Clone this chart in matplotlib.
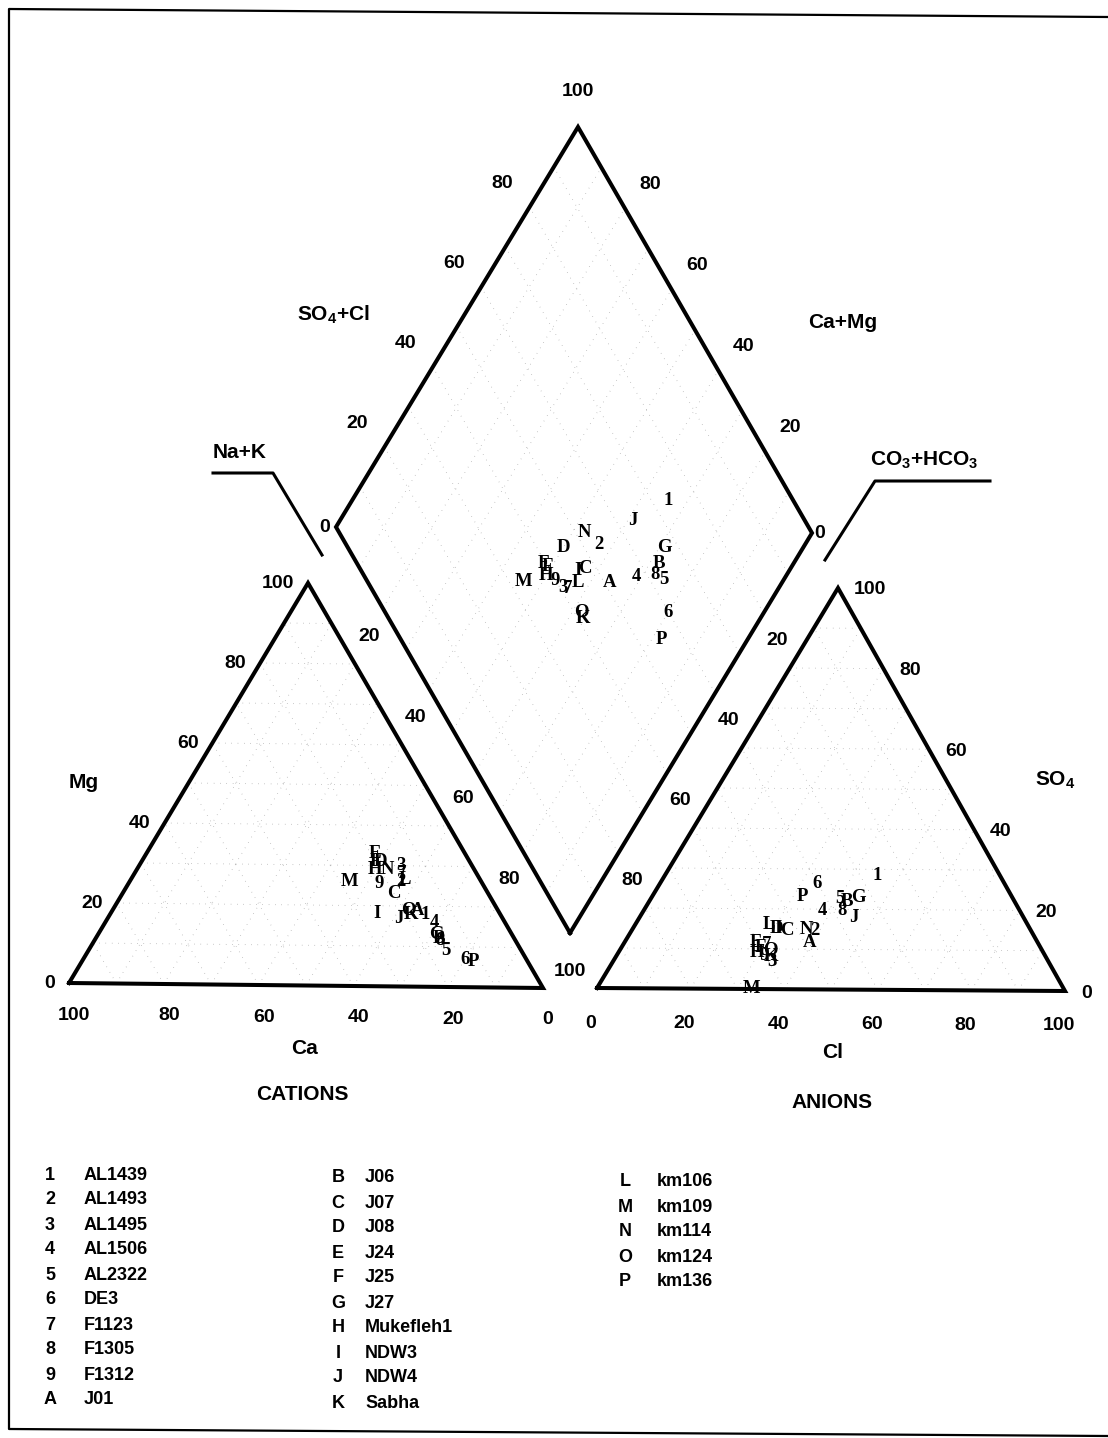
import numpy as np
import matplotlib
matplotlib.use("Agg")
import matplotlib.pyplot as plt

plt.rcParams['font.family'] = ['Liberation Sans', 'DejaVu Sans']
plt.rcParams['mathtext.fontset'] = 'custom'
plt.rcParams['mathtext.rm'] = 'Liberation Sans:bold'
plt.rcParams['mathtext.default'] = 'rm'

# sample codes and names (legend)
codes = ['1', '2', '3', '4', '5', '6', '7', '8', '9', 'A', 'B', 'C', 'D',
         'E', 'F', 'G', 'H', 'I', 'J', 'K', 'L', 'M', 'N', 'O', 'P']
names = ['AL1439', 'AL1493', 'AL1495', 'AL1506', 'AL2322', 'DE3', 'F1123',
         'F1305', 'F1312', 'J01', 'J06', 'J07', 'J08', 'J24', 'J25', 'J27',
         'Mukefleh1', 'NDW3', 'NDW4', 'Sabha', 'km106', 'km109', 'km114',
         'km124', 'km136']

# cations, % meq
ca = [16, 17, 15, 15, 16, 13, 16, 16, 22, 17, 16, 20, 19,
      19, 20, 16, 21, 26, 22, 19, 16, 28, 18.5, 19, 11.5]
mg = [18, 26, 30, 16, 9, 7, 28, 11.5, 25.5, 19, 12, 23, 31,
      33, 31, 13, 29, 18, 17, 18, 26.5, 26, 29, 19, 6.5]
nak = [66, 57, 55, 69, 75, 80, 56, 72.5, 52.5, 64, 72, 57, 50,
       48, 49, 71, 50, 56, 61, 63, 57.5, 46, 52.5, 62, 82]

# anions, % meq
hco3 = [26.4, 46.4, 59.3, 42.4, 37.1, 40.2, 58.5, 38.2, 60.2, 48.9, 36, 52.4, 54.3,
        60.4, 60.1, 33, 61.5, 54, 36.5, 59, 55.5, 67, 48, 58.4, 45]
so4 = [28.4, 14.6, 7, 19.6, 22.6, 26.4, 11, 19.6, 8.4, 11.6, 22, 14.6, 15,
       11.6, 10.4, 23, 9, 15, 18, 8, 16, 0, 15, 9.6, 23]
cl = [45.2, 39, 33.7, 38, 40.3, 33.4, 30.5, 42.2, 31.4, 39.5, 42, 33, 30.7,
      28, 29.5, 44, 29.5, 31, 45.5, 33, 28.5, 33, 37, 32, 32]

ticks = [0, 20, 40, 60, 80, 100]

# layout (pixel space of the scanned page)
C_BL, C_BR, C_T = np.array([69, 983]), np.array([543, 988]), np.array([308, 583])
A_BL, A_BR, A_T = np.array([597, 988]), np.array([1065, 991]), np.array([838, 588])
D_B, D_L, D_R = np.array([570, 933]), np.array([336, 527]), np.array([812, 533])
D_T = D_L + D_R - D_B

LW = 2.9
SANS = dict(family='Liberation Sans', fontweight='bold', color='black')


def tern(v1, v2, v3, f1, f2, f3):
    s = f1 + f2 + f3
    return (v1 * f1 + v2 * f2 + v3 * f3) / s


def diam(a, b):
    return D_B + a * (D_L - D_B) + b * (D_R - D_B)


fig = plt.figure(figsize=(11.08, 14.38), dpi=100)
ax = fig.add_axes([0, 0, 1, 1])
ax.set_xlim(0, 1108)
ax.set_ylim(1438, 0)
ax.axis('off')

# page frame
ax.plot([1108, 9, 9, 1108], [17, 9, 1429, 1436], color='black', lw=1.6)

# dotted grid
grid_kw = dict(color='#888888', lw=0.6, linestyle=(0, (0.6, 7)))
for k in np.arange(0.1, 1.0, 0.1):
    for (p, q, r) in [(C_BL, C_BR, C_T), (A_BL, A_BR, A_T)]:
        for s1, s2 in [((p, r), (q, r)), ((p, q), (r, q)), ((q, p), (r, p))]:
            a0 = s1[0] + k * (s1[1] - s1[0])
            a1 = s2[0] + k * (s2[1] - s2[0])
            ax.plot([a0[0], a1[0]], [a0[1], a1[1]], **grid_kw)
    p0, p1 = diam(k, 0), diam(k, 1)
    ax.plot([p0[0], p1[0]], [p0[1], p1[1]], **grid_kw)
    p0, p1 = diam(0, k), diam(1, k)
    ax.plot([p0[0], p1[0]], [p0[1], p1[1]], **grid_kw)

# outlines
for poly in [(C_BL, C_BR, C_T, C_BL), (A_BL, A_BR, A_T, A_BL), (D_B, D_R, D_T, D_L, D_B)]:
    pts = np.array(poly)
    ax.plot(pts[:, 0], pts[:, 1], color='black', lw=LW, solid_joinstyle='miter')

# bent pointer lines
ax.plot([213, 273, 322], [473, 473, 555], color='black', lw=2.2)
ax.plot([990, 875, 825], [481, 481, 560], color='black', lw=2.2)

fs = 14
# tick labels
for t in ticks:
    f = t / 100
    p = C_BL + f * (C_T - C_BL)                    # Mg
    ax.text(p[0] - 14, p[1], str(t), ha='right', va='center', fontsize=fs, **SANS)
    p = C_BR + f * (C_BL - C_BR)                   # Ca
    ax.text(p[0] + 5, p[1] + 32, str(t), ha='center', va='center', fontsize=fs, **SANS)
    p = A_BL + f * (A_BR - A_BL)                   # Cl
    ax.text(p[0] - 6, p[1] + 35, str(t), ha='center', va='center', fontsize=fs, **SANS)
    p = A_BR + f * (A_T - A_BR)                    # SO4
    ax.text(p[0] + 16, p[1] + 2, str(t), ha='left', va='center', fontsize=fs, **SANS)
    if 0 < t < 100:
        p = D_L + f * (D_T - D_L)                  # SO4+Cl
        ax.text(p[0] - 27, p[1] - 24, str(t), ha='center', va='center', fontsize=fs, **SANS)
        p = D_R + f * (D_T - D_R)                  # Ca+Mg
        ax.text(p[0] + 25, p[1] - 24, str(t), ha='center', va='center', fontsize=fs, **SANS)
        p = ((C_T + f * (C_BR - C_T)) + (D_L + f * (D_B - D_L))) / 2     # Na+K
        ax.text(p[0], p[1], str(t), ha='center', va='center', fontsize=fs, **SANS)
        p = ((A_T + f * (A_BL - A_T)) + (D_R + f * (D_B - D_R))) / 2     # CO3+HCO3
        ax.text(p[0], p[1], str(t), ha='center', va='center', fontsize=fs, **SANS)
ax.text(D_L[0] - 11, D_L[1] + 1, '0', ha='center', va='center', fontsize=fs, **SANS)
ax.text(D_R[0] + 8, D_R[1], '0', ha='center', va='center', fontsize=fs, **SANS)
ax.text(D_T[0], D_T[1] - 35, '100', ha='center', va='center', fontsize=fs, **SANS)
ax.text((C_BR[0] + A_BL[0]) / 2, C_BR[1] - 16, '100', ha='center', va='center',
        fontsize=fs, **SANS)

# axis titles
tfs = 15
ax.text(333, 315, r'SO$_4$+Cl', ha='center', va='center', fontsize=tfs, **SANS)
ax.text(843, 322, 'Ca+Mg', ha='center', va='center', fontsize=tfs, **SANS)
ax.text(240, 452, 'Na+K', ha='center', va='center', fontsize=tfs, **SANS)
ax.text(924, 460, r'CO$_3$+HCO$_3$', ha='center', va='center', fontsize=tfs, **SANS)
ax.text(84, 782, 'Mg', ha='center', va='center', fontsize=tfs, **SANS)
ax.text(305, 1048, 'Ca', ha='center', va='center', fontsize=tfs, **SANS)
ax.text(1055, 780, r'SO$_4$', ha='center', va='center', fontsize=tfs, **SANS)
ax.text(833, 1052, 'Cl', ha='center', va='center', fontsize=tfs, **SANS)
ax.text(302, 1095, 'CATIONS', ha='center', va='center', fontsize=tfs, **SANS)
ax.text(832, 1102, 'ANIONS', ha='center', va='center', fontsize=tfs, **SANS)

# sample labels
MK = dict(family='Liberation Serif', fontweight='bold', fontsize=13.5,
          ha='center', va='center', color='black')
for i, c in enumerate(codes):
    p = tern(C_BL, C_BR, C_T, ca[i], nak[i], mg[i])
    ax.text(p[0], p[1], c, **MK)
    p = tern(A_BL, A_BR, A_T, hco3[i], cl[i], so4[i])
    ax.text(p[0], p[1], c, **MK)
    a = (ca[i] + mg[i]) / (ca[i] + mg[i] + nak[i])
    b = (cl[i] + so4[i]) / (cl[i] + so4[i] + hco3[i])
    p = diam(a, b)
    ax.text(p[0], p[1], c, **MK)

# legend
cols = [(50, 84, 1175, codes[:10], names[:10]),
        (338, 365, 1178, codes[10:20], names[10:20]),
        (625, 657, 1182, codes[20:], names[20:])]
for xc, xn, y0, cc, nn in cols:
    for j, (c, n) in enumerate(zip(cc, nn)):
        ax.text(xc, y0 + 25 * j, c, ha='center', va='center', fontsize=13, **SANS)
        ax.text(xn, y0 + 25 * j, n, ha='left', va='center', fontsize=13, **SANS)

fig.savefig('out.png', dpi=100)
